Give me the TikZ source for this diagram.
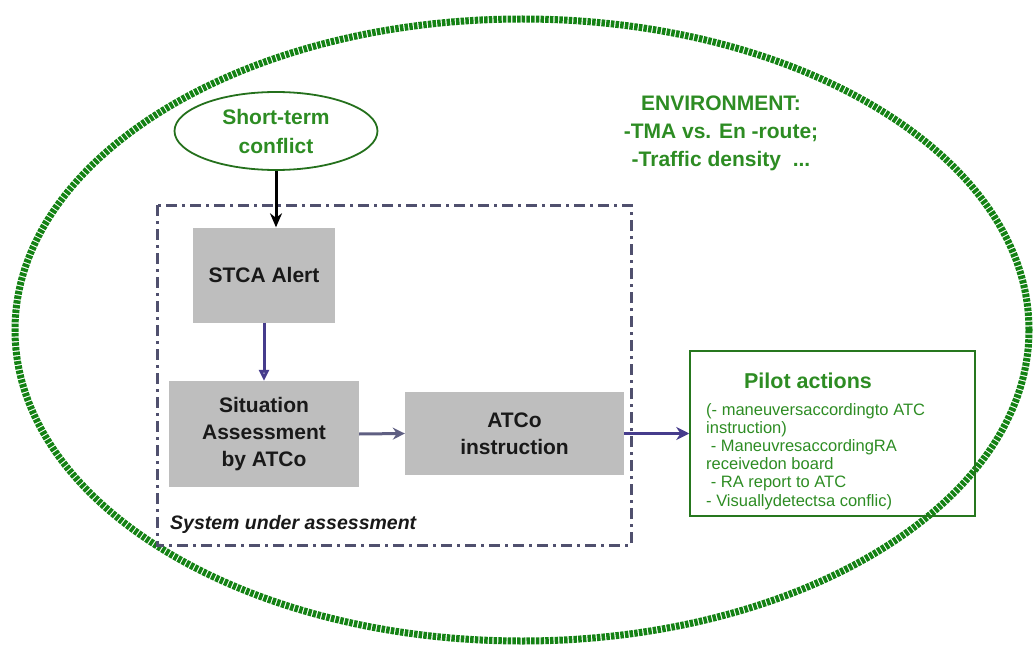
\documentclass[tikz,border=0pt]{standalone}
\usepackage{fontspec}
\setmainfont{Liberation Sans}
\usetikzlibrary{arrows.meta,shapes.geometric}
\definecolor{envgreen}{RGB}{20,130,20}
\definecolor{txtgreen}{RGB}{45,140,35}
\definecolor{boxgray}{RGB}{190,190,190}
\definecolor{boxtext}{RGB}{25,25,25}
\definecolor{framecol}{RGB}{80,80,110}
\definecolor{arrowpurple}{RGB}{70,60,140}
\definecolor{arrowgray}{RGB}{95,95,130}
\tikzset{
  gbox/.style={fill=boxgray, draw=none, text=boxtext, align=center, inner sep=0pt,
    font=\bfseries\fontsize{21}{27}\selectfont},
  greentext/.style={text=txtgreen, font=\bfseries\fontsize{21}{28}\selectfont, align=center, inner sep=0pt},
  dashdot/.style={draw=framecol, line width=3pt, dash pattern=on 11pt off 5pt on 3pt off 5pt},
}
\begin{document}
\begin{tikzpicture}[x=1pt,y=-1pt]
\useasboundingbox (0,0) rectangle (1034,650);
% environment ellipse
\node[ellipse, draw=envgreen, line width=7pt, dash pattern=on 3.5pt off 1.2pt,
      minimum width=1014pt, minimum height=622pt, inner sep=0pt] (env) at (522,330) {};
% environment text
\node[greentext] (envtext) at (721,133) {ENVIRONMENT:\\-TMA vs. En -route;\\-Traffic density \ ...};
% short-term conflict
\node[ellipse, draw=txtgreen!80!black, line width=1.8pt, minimum width=203pt, minimum height=78pt,
      inner sep=0pt, text=txtgreen, font=\bfseries\fontsize{21}{29}\selectfont, align=center]
      (conflict) at (276,131) {Short-term\\conflict};
% system frame
\coordinate (fnw) at (157,205);
\coordinate (fse) at (631,545);
\draw[dashdot] (fnw) rectangle (fse);
\node[anchor=west, inner sep=0pt, text=boxtext, font=\bfseries\itshape\fontsize{19.5}{22}\selectfont]
  (sua) at (170,524) {System under assessment};
% boxes
\node[gbox, minimum width=142pt, minimum height=95pt] (stca) at (264,275) {STCA Alert};
\node[gbox, minimum width=190pt, minimum height=106pt] (sit) at (264,434) {Situation\\Assessment\\by ATCo};
\node[gbox, minimum width=219pt, minimum height=83pt] (atco) at (514.5,433.5) {ATCo\\instruction};
% pilot box
\node[draw=txtgreen!85!black, line width=1.5pt, minimum width=285pt, minimum height=165pt, inner sep=0pt]
  (pilot) at (832.5,433.5) {};
\node[text=txtgreen, font=\bfseries\fontsize{21.5}{24}\selectfont, inner sep=0pt] (ptitle) at (808,381) {Pilot actions};
\node[anchor=north west, text=txtgreen, align=left, inner sep=0pt,
      font=\fontsize{16.5}{18.2}\selectfont] (plist) at (706,403)
  {(- maneuversaccordingto ATC\\instruction)\\\ - ManeuvresaccordingRA\\receivedon board\\\ - RA report to ATC\\- Visuallydetectsa conflic)};
% connectors
\draw[line width=3pt, -{Stealth[length=14pt,width=12pt]}] (conflict.south) -- (conflict.south |- stca.north);
\draw[line width=3pt, draw=arrowpurple, -{Triangle[open,length=11pt,width=10pt]}] (stca.south) -- (sit.north);
\draw[line width=3pt, draw=arrowgray, -{Stealth[length=12pt,width=12pt]}] (sit.east) -- (atco.west);
\draw[line width=3.5pt, draw=arrowpurple, -{Stealth[length=13pt,width=13pt]}] (atco.east) -- (pilot.west);
\end{tikzpicture}
\end{document}
